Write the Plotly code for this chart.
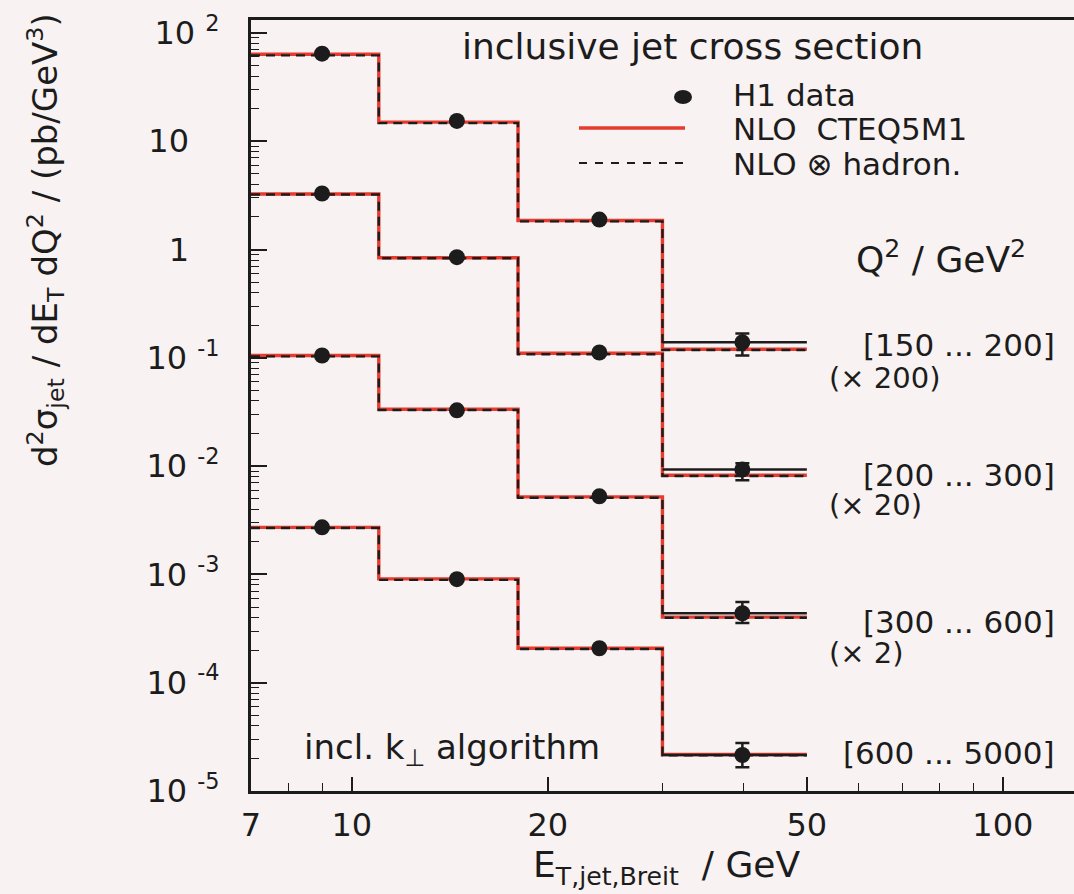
import numpy as np
import plotly.graph_objects as go

# ---------------- data ----------------
bin_edges = [7, 11, 18, 30, 50]
et_mean = [9.0, 14.5, 24.0, 39.8]

q2_ranges = ["[150 ... 200]", "[200 ... 300]", "[300 ... 600]", "[600 ... 5000]"]
scale_labels = ["(× 200)", "(× 20)", "(× 2)", ""]

# H1 data (already multiplied by the scale factors)
h1_150 = [64.3, 15.4, 1.89, 0.139]
h1_200 = [3.29, 0.85, 0.112, 0.0093]
h1_300 = [0.105, 0.0327, 0.00526, 0.000438]
h1_600 = [0.00272, 0.000904, 0.000208, 2.15e-5]

# errors (upper / lower), visible only in last bin
err_up_150 = [0, 0, 0, 0.029]
err_dn_150 = [0, 0, 0, 0.034]
err_up_200 = [0, 0, 0, 0.0013]
err_dn_200 = [0, 0, 0, 0.0019]
err_up_300 = [0, 0, 0, 0.000117]
err_dn_300 = [0, 0, 0, 0.000083]
err_up_600 = [0, 0, 0, 0.62e-5]
err_dn_600 = [0, 0, 0, 0.49e-5]

# horizontal extent of data (last bin only)
ex_plus = [0, 0, 0, 10.2]
ex_minus = [0, 0, 0, 9.8]

# NLO CTEQ5M1
nlo_150 = [63.5, 15.0, 1.85, 0.120]
nlo_200 = [3.25, 0.84, 0.110, 0.00822]
nlo_300 = [0.105, 0.0335, 0.0052, 0.000403]
nlo_600 = [0.00272, 0.00091, 0.000208, 2.17e-5]

# NLO x hadronisation
had_150 = [62.0, 14.7, 1.82, 0.118]
had_200 = [3.22, 0.83, 0.108, 0.0081]
had_300 = [0.103, 0.0330, 0.0051, 0.000398]
had_600 = [0.00268, 0.00089, 0.000205, 2.14e-5]

x_tick_vals = [7, 10, 20, 50, 100]
x_tick_text = ["7", "10", "20", "50", "100"]
x_minor_vals = [8, 9, 30, 40, 60, 70, 80, 90]

y_tick_vals = [1e-5, 1e-4, 1e-3, 1e-2, 1e-1, 1, 10, 100]
y_tick_text = ["10\u00a0<sup>-5</sup>", "10\u00a0<sup>-4</sup>", "10\u00a0<sup>-3</sup>",
               "10\u00a0<sup>-2</sup>", "10\u00a0<sup>-1</sup>",
               "1\u00a0\u00a0\u00a0", "10\u00a0\u00a0\u00a0", "10\u00a0<sup>2</sup>"]
y_minor_vals = [m * 10.0 ** d for d in range(-5, 3) for m in range(2, 10)]

# ---------------- figure ----------------
W, H = 1074, 894
L, R, T, B = 251, 0, 20, 103
PW, PH = W - L - R, H - T - B
RED = "#e63b2e"
INK = "#1c1c1c"
BG = "#f8f2f2"
FONT = "DejaVu Sans"


def px(xp):
    return (xp - L) / PW


def py(yp):
    return (H - B - yp) / PH


fig = go.Figure()

series = [
    (h1_150, nlo_150, had_150, err_up_150, err_dn_150),
    (h1_200, nlo_200, had_200, err_up_200, err_dn_200),
    (h1_300, nlo_300, had_300, err_up_300, err_dn_300),
    (h1_600, nlo_600, had_600, err_up_600, err_dn_600),
]

for data, nlo, had, eu, ed in series:
    fig.add_trace(go.Scatter(x=bin_edges, y=nlo + [nlo[-1]], mode="lines",
                             line=dict(color=RED, width=3.4, shape="hv"),
                             showlegend=False, hoverinfo="skip"))
    fig.add_trace(go.Scatter(x=bin_edges, y=had + [had[-1]], mode="lines",
                             line=dict(color=INK, width=2.4, shape="hv", dash="9px,6px"),
                             showlegend=False, hoverinfo="skip"))
    fig.add_trace(go.Scatter(x=et_mean, y=data, mode="markers",
                             marker=dict(color=INK, size=16, symbol="circle"),
                             error_y=dict(type="data", array=eu, arrayminus=ed,
                                          color=INK, thickness=2.5, width=7),
                             error_x=dict(type="data", array=ex_plus, arrayminus=ex_minus,
                                          color=INK, thickness=2.5, width=0),
                             showlegend=False))

xr = [np.log10(7), np.log10(7) + PW / 651.0]
yr = [-5, -5 + PH / 108.3]

fig.update_xaxes(type="log", range=xr, tickvals=x_tick_vals, ticktext=x_tick_text,
                 ticks="inside", ticklen=14, tickwidth=1.5, tickcolor=INK,
                 minor=dict(tickvals=x_minor_vals, ticks="inside", ticklen=8,
                            tickwidth=1.2, tickcolor=INK),
                 showline=True, linewidth=3, linecolor=INK, mirror=True,
                 showgrid=False, zeroline=False,
                 tickfont=dict(family=FONT, size=32, color=INK),
                 ticklabelstandoff=4)
fig.update_yaxes(type="log", range=yr, tickvals=y_tick_vals, ticktext=y_tick_text,
                 ticks="inside", ticklen=16, tickwidth=1.5, tickcolor=INK,
                 minor=dict(tickvals=y_minor_vals, ticks="inside", ticklen=8,
                            tickwidth=1.2, tickcolor=INK),
                 showline=True, linewidth=3, linecolor=INK, mirror=False,
                 showgrid=False, zeroline=False,
                 tickfont=dict(family=FONT, size=32, color=INK),
                 ticklabelstandoff=22)

ann = []


def txt(text, x, y, size, xanchor="left", angle=0):
    ann.append(dict(text=text, x=px(x), y=py(y), xref="paper", yref="paper",
                    xanchor=xanchor, yanchor="middle", showarrow=False,
                    textangle=angle, font=dict(family=FONT, size=size, color=INK)))


txt("inclusive jet cross section", 460, 47, 36)
txt("H1 data", 731, 95, 31)
txt("NLO\u00a0\u00a0CTEQ5M1", 731, 129, 31)
txt("NLO ⊗ hadron.", 731, 164, 31)
txt("Q<sup>2</sup> / GeV<sup>2</sup>", 854, 257, 36)

right_y = [345, 475, 622, 753]
scale_y = [378, 505, 653, None]
for lab, yy in zip(q2_ranges, right_y):
    txt(lab, 1057, yy, 31, xanchor="right")
for lab, yy in zip(scale_labels, scale_y):
    if lab:
        txt(lab, 827, yy, 29)

txt("incl. k<sub>⊥</sub> algorithm", 302, 749, 34)

# axis titles
txt("E<sub>T,jet,Breit</sub>\u00a0\u00a0/ GeV", 666, 867, 36, xanchor="center")
txt("d<sup>2</sup>σ<sub>jet</sub> / dE<sub>T</sub> dQ<sup>2</sup> / (pb/GeV<sup>3</sup>)",
    45, 240, 34, xanchor="center", angle=-90)

# legend samples
shapes = [
    dict(type="circle", xref="paper", yref="paper", x0=px(674), x1=px(692),
         y0=py(104), y1=py(90), fillcolor=INK, line=dict(width=0)),
    dict(type="line", xref="paper", yref="paper", x0=px(579), x1=px(685),
         y0=py(128), y1=py(128), line=dict(color=RED, width=3.5)),
    dict(type="line", xref="paper", yref="paper", x0=px(579), x1=px(685),
         y0=py(163), y1=py(163), line=dict(color=INK, width=2.2, dash="8px,8px")),
]

fig.update_layout(width=W, height=H, margin=dict(l=L, r=R, t=T, b=B),
                  paper_bgcolor=BG, plot_bgcolor=BG, annotations=ann, shapes=shapes,
                  showlegend=False, font=dict(family=FONT, color=INK))

fig.write_html("out.html")
